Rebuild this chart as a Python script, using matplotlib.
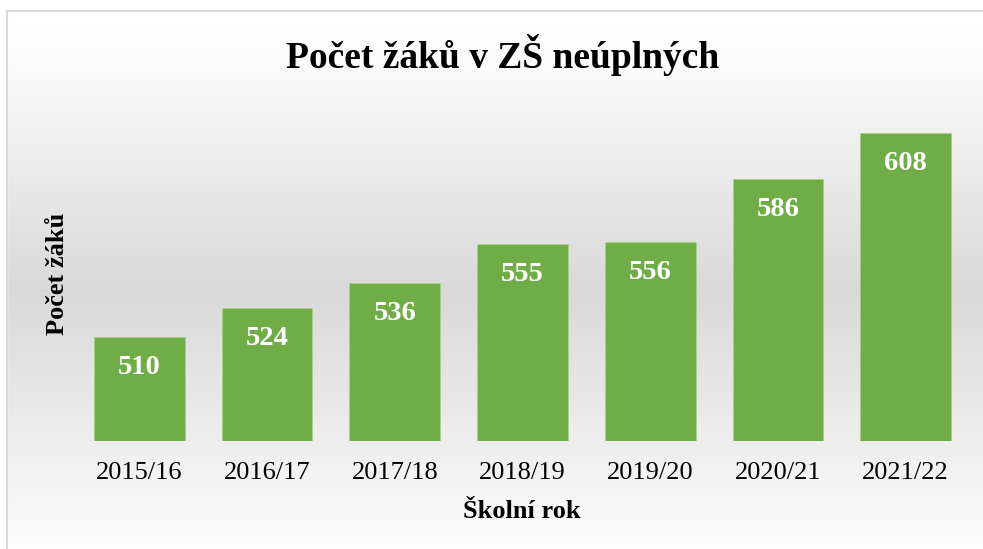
import matplotlib
matplotlib.use('Agg')
import matplotlib.pyplot as plt
import numpy as np

plt.rcParams['font.family'] = ['Liberation Serif', 'DejaVu Serif']

# data
roky = ['2015/16', '2016/17', '2017/18', '2018/19', '2019/20', '2020/21', '2021/22']
pocty = [510, 524, 536, 555, 556, 586, 608]

W, H = 983, 549
fig = plt.figure(figsize=(W / 100, H / 100), dpi=100)

# pozadi s gradientem (bila -> seda -> bila)
bg = fig.add_axes([0, 0, 1, 1])
py = np.arange(H)
val = np.interp(py, [0, 11, 60, 290, 560], [1.0, 1.0, 0.99, 0.85, 1.0])
grad = np.repeat(val[:, None], 2, axis=1)
img = np.dstack([grad, grad, grad])
img[:11, :, :] = 1.0
bg.imshow(img, aspect='auto', extent=[0, W, H, 0], interpolation='bilinear')
# bila plocha vlevo od ramecku
bg.fill_between([0, 7], 0, H, color='white', zorder=2)
bg.plot([7, 7], [11, H], color='#d9d9d9', lw=1.5, zorder=3)
bg.plot([7, W], [11, 11], color='#d9d9d9', lw=1.5, zorder=3)
bg.set_xlim(0, W)
bg.set_ylim(H, 0)
bg.axis('off')

ax = fig.add_axes([75.5 / W, 108 / H, 894 / W, 332.5 / H])
ax.patch.set_alpha(0)
x = np.arange(len(roky))
ax.bar(x, pocty, width=0.71, color='#70AD47', edgecolor='#a9d08e', linewidth=0.6)
ax.set_xlim(-0.5, len(roky) - 0.5)
ax.set_ylim(460, 620)

for xi, v in zip(x, pocty):
    ax.annotate(str(v), (xi, v), xytext=(0, -13), textcoords='offset points',
                ha='center', va='top', color='white', fontsize=20.5, fontweight='bold')

ax.set_xticks(x)
ax.set_xticklabels(roky, fontsize=19)
ax.tick_params(axis='x', length=0, pad=15)
ax.set_yticks([])
for s in ax.spines.values():
    s.set_visible(False)

fig.text(503 / W, 1 - 55 / H, 'Počet žáků v ZŠ neúplných', ha='center', va='center',
         fontsize=27, fontweight='bold')
fig.text(522 / W, 1 - 512 / H, 'Školní rok', ha='center', va='center',
         fontsize=19, fontweight='bold')
fig.text(57 / W, 1 - 274 / H, 'Počet žáků', ha='center', va='center', rotation=90,
         fontsize=19, fontweight='bold')

fig.savefig('out.png', dpi=100)
